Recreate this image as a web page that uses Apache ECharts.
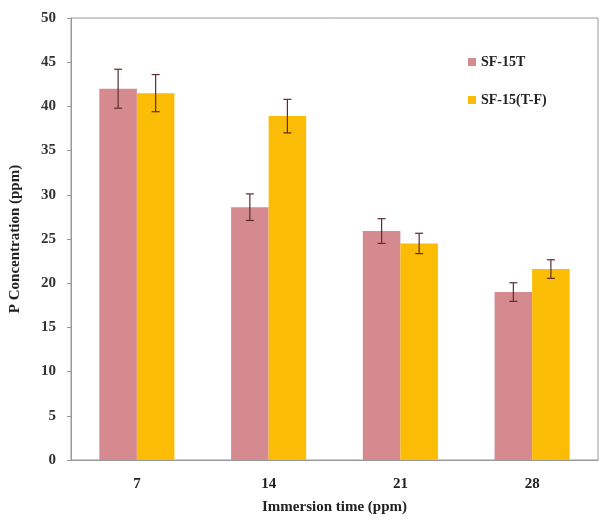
<!DOCTYPE html>
<html>
<head>
<meta charset="utf-8">
<script src="https://cdn.jsdelivr.net/npm/echarts@6/dist/echarts.min.js"></script>
<style>
    html, body { margin: 0; padding: 0; background: #fff; }
    #chart { width: 600px; height: 522px; }
</style>
</head>
<body>
<div id="chart"></div>
<script>
var categories = ['7', '14', '21', '28'];
var seriesNames = ['SF-15T', 'SF-15(T-F)'];
var sf15t = [42.0, 28.6, 25.9, 19.0];
var sf15tErr = [2.2, 1.5, 1.4, 1.05];
var sf15tf = [41.5, 38.9, 24.5, 21.6];
var sf15tfErr = [2.1, 1.9, 1.15, 1.05];
var yTicks = [0, 5, 10, 15, 20, 25, 30, 35, 40, 45, 50];

var colors = ['#d48a8e', '#fbbc05'];
var catGap = 0.43;
var font = 'Liberation Serif, Times New Roman, serif';

// 误差线
function errorSeries(idx, values, errs) {
    var data = [];
    for (var i = 0; i < values.length; i++) {
        data.push([i, values[i] - errs[i], values[i] + errs[i]]);
    }
    return {
        type: 'custom',
        name: seriesNames[idx] + ' err',
        z: 10,
        silent: true,
        renderItem: function(params, api) {
            var band = api.size([1, 0])[0];
            var barW = band * (1 - catGap) / 2;
            var off = (idx === 0 ? -1 : 1) * barW / 2;
            var lo = api.coord([api.value(0), api.value(1)]);
            var hi = api.coord([api.value(0), api.value(2)]);
            var x = lo[0] + off;
            var cap = 4;
            var style = { stroke: '#5a2e2e', lineWidth: 1.2 };
            return {
                type: 'group',
                children: [
                    { type: 'line', shape: { x1: x, y1: lo[1], x2: x, y2: hi[1] }, style: style },
                    { type: 'line', shape: { x1: x - cap, y1: lo[1], x2: x + cap, y2: lo[1] }, style: style },
                    { type: 'line', shape: { x1: x - cap, y1: hi[1], x2: x + cap, y2: hi[1] }, style: style }
                ]
            };
        },
        data: data
    };
}

var chart = echarts.init(document.getElementById('chart'));
var option = {
    animation: false,
    textStyle: { fontFamily: font },
    grid: {
        left: 70, right: 2, top: 18, bottom: 62,
        show: true, borderColor: '#999', borderWidth: 1
    },
    legend: {
        data: seriesNames,
        orient: 'vertical',
        left: 463, top: 50,
        itemWidth: 8, itemHeight: 8, itemGap: 24,
        icon: 'rect',
        textStyle: { fontFamily: font, fontWeight: 'bold', fontSize: 14, color: '#222' }
    },
    xAxis: {
        type: 'category',
        data: categories,
        name: 'Immersion time (ppm)',
        nameLocation: 'middle',
        nameGap: 40,
        nameTextStyle: { fontFamily: font, fontWeight: 'bold', fontSize: 15, color: '#222' },
        axisLine: { lineStyle: { color: '#999' } },
        axisTick: { show: false },
        axisLabel: { fontFamily: font, fontWeight: 'bold', fontSize: 15, color: '#222', margin: 17 }
    },
    yAxis: {
        type: 'value',
        min: yTicks[0], max: yTicks[yTicks.length - 1], interval: 5,
        name: 'P Concentration (ppm)',
        nameLocation: 'middle',
        nameGap: 48,
        nameTextStyle: { fontFamily: font, fontWeight: 'bold', fontSize: 15, color: '#222' },
        axisLine: { show: true, lineStyle: { color: '#999' } },
        axisTick: { show: true, length: 4, lineStyle: { color: '#999' } },
        splitLine: { show: false },
        axisLabel: { fontFamily: font, fontWeight: 'bold', fontSize: 15, color: '#333', margin: 15 }
    },
    series: [
        {
            name: seriesNames[0], type: 'bar', data: sf15t,
            barGap: '0%', barCategoryGap: (catGap * 100) + '%',
            itemStyle: { color: colors[0] }
        },
        {
            name: seriesNames[1], type: 'bar', data: sf15tf,
            itemStyle: { color: colors[1] }
        },
        errorSeries(0, sf15t, sf15tErr),
        errorSeries(1, sf15tf, sf15tfErr)
    ]
};
chart.setOption(option);
</script>
</body>
</html>
